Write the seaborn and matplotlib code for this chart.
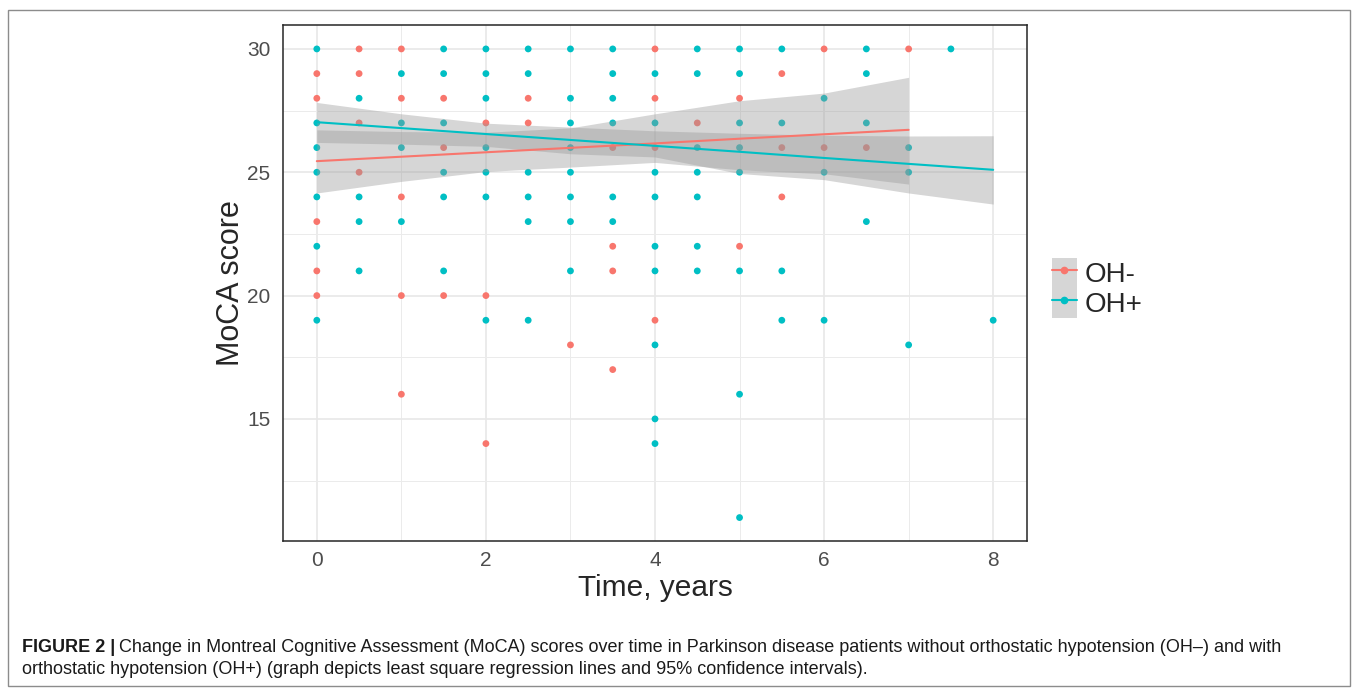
import matplotlib
matplotlib.use("Agg")
import pandas as pd
import matplotlib.pyplot as plt
import seaborn as sns
from matplotlib.lines import Line2D
from matplotlib.patches import Patch, Rectangle
from matplotlib.legend_handler import HandlerTuple
from matplotlib.ticker import MultipleLocator

sns.set_style("white")
plt.rcParams["font.family"] = ["Liberation Sans", "DejaVu Sans"]

# OH- observations (time in years, MoCA score)
ohm_time = [0, 0, 0, 0, 0, 0.5, 0.5, 0.5, 0.5, 1, 1, 1, 1, 1, 1.5, 1.5, 1.5,
            2, 2, 2, 2.5, 2.5, 3, 3.5, 3.5, 3.5, 3.5, 4, 4, 4, 4, 4.5, 5, 5,
            5.5, 5.5, 5.5, 6, 6, 6.5, 7]
ohm_score = [29, 28, 23, 21, 20, 30, 29, 27, 25, 30, 28, 24, 20, 16, 28, 26, 20,
             27, 20, 14, 28, 27, 18, 26, 22, 21, 17, 30, 28, 26, 19, 27, 28, 22,
             29, 26, 24, 30, 26, 26, 30]

# OH+ observations
ohp_time = [0, 0, 0, 0, 0, 0, 0,
            0.5, 0.5, 0.5, 0.5,
            1, 1, 1, 1,
            1.5, 1.5, 1.5, 1.5, 1.5, 1.5,
            2, 2, 2, 2, 2, 2, 2,
            2.5, 2.5, 2.5, 2.5, 2.5, 2.5,
            3, 3, 3, 3, 3, 3, 3, 3,
            3.5, 3.5, 3.5, 3.5, 3.5, 3.5,
            4, 4, 4, 4, 4, 4, 4, 4, 4,
            4.5, 4.5, 4.5, 4.5, 4.5, 4.5, 4.5,
            5, 5, 5, 5, 5, 5, 5, 5,
            5.5, 5.5, 5.5, 5.5,
            6, 6, 6,
            6.5, 6.5, 6.5, 6.5,
            7, 7, 7,
            7.5, 8]
ohp_score = [30, 27, 26, 25, 24, 22, 19,
             28, 24, 23, 21,
             29, 27, 26, 23,
             30, 29, 27, 25, 24, 21,
             30, 29, 28, 26, 25, 24, 19,
             30, 29, 25, 24, 23, 19,
             30, 28, 27, 26, 25, 24, 23, 21,
             30, 29, 28, 27, 24, 23,
             29, 27, 25, 24, 22, 21, 18, 15, 14,
             30, 29, 26, 25, 24, 22, 21,
             30, 29, 27, 26, 25, 21, 16, 11,
             30, 27, 21, 19,
             28, 25, 19,
             30, 29, 27, 23,
             26, 25, 18,
             30, 19]

# least-squares fits and 95% CI
ohm_fit_x = [0, 1, 2, 3, 4, 5, 6, 7]
ohm_fit = [25.45, 25.63, 25.81, 25.99, 26.17, 26.36, 26.54, 26.72]
ohm_lo = [24.16, 24.63, 25.03, 25.21, 25.40, 25.10, 24.94, 24.52]
ohm_hi = [26.72, 26.65, 26.62, 26.80, 27.37, 27.90, 28.21, 28.85]

ohp_fit_x = [0, 1, 2, 3, 4, 5, 6, 7, 8]
ohp_fit = [27.03, 26.79, 26.55, 26.31, 26.07, 25.83, 25.58, 25.34, 25.10]
ohp_lo = [26.21, 26.14, 26.05, 25.75, 25.62, 24.95, 24.70, 24.16, 23.71]
ohp_hi = [27.83, 27.37, 26.99, 26.83, 26.68, 26.58, 26.50, 26.47, 26.48]

groups = ["OH-", "OH+"]
colors = {"OH-": "#F8766D", "OH+": "#00BFC4"}

pts = pd.DataFrame({
    "time": ohm_time + ohp_time,
    "score": ohm_score + ohp_score,
    "group": ["OH-"] * len(ohm_time) + ["OH+"] * len(ohp_time),
})
fits = pd.DataFrame({
    "time": ohm_fit_x + ohp_fit_x,
    "fit": ohm_fit + ohp_fit,
    "lo": ohm_lo + ohp_lo,
    "hi": ohm_hi + ohp_hi,
    "group": ["OH-"] * len(ohm_fit_x) + ["OH+"] * len(ohp_fit_x),
})

fig = plt.figure(figsize=(13.57, 6.9), dpi=100)
ax = fig.add_axes([283 / 1357, 1 - 541 / 690, 744 / 1357, 515.5 / 690])

sns.scatterplot(data=pts, x="time", y="score", hue="group", palette=colors,
                s=24, linewidth=0, legend=False, ax=ax, zorder=3)

for g in groups:
    d = fits[fits["group"] == g]
    ax.fill_between(d["time"], d["lo"], d["hi"], color="#999999", alpha=0.4,
                    linewidth=0, zorder=4)
sns.lineplot(data=fits, x="time", y="fit", hue="group", palette=colors,
             linewidth=1.5, legend=False, ax=ax, zorder=5)

ax.set_xlim(-0.4, 8.4)
ax.set_ylim(10.05, 30.95)
ax.set_xticks([0, 2, 4, 6, 8])
ax.set_yticks([15, 20, 25, 30])
ax.xaxis.set_minor_locator(MultipleLocator(1))
ax.yaxis.set_minor_locator(MultipleLocator(2.5))
ax.grid(which="major", color="#E8E8E8", linewidth=1.2, zorder=0)
ax.grid(which="minor", color="#EBEBEB", linewidth=0.7, zorder=0)
ax.set_axisbelow(True)
ax.tick_params(which="major", length=4, width=0.9, color="#333333",
               labelsize=15, labelcolor="#4D4D4D", pad=3)
ax.tick_params(axis="y", which="major", pad=5)
ax.tick_params(which="minor", length=0)
for sp in ax.spines.values():
    sp.set_color("#262626")
    sp.set_linewidth(1.1)

ax.set_xlabel("Time, years", fontsize=21.5, labelpad=3)
ax.set_ylabel("MoCA score", fontsize=22, labelpad=1)

handles = [(Patch(facecolor="#D6D6D6", edgecolor="none"),
            Line2D([], [], color=colors[g], linewidth=1.5, marker="o", markersize=4.5))
           for g in groups]
fig.legend(handles, groups, handler_map={tuple: HandlerTuple(ndivide=1)},
           loc="center left", bbox_to_anchor=(1046 / 1357, 1 - 288 / 690),
           frameon=False, fontsize=20, handlelength=0.9, handleheight=1.28,
           labelspacing=0.0, handletextpad=0.3, borderpad=0.2, borderaxespad=0)

# outer frame
fig.patches.append(Rectangle((8 / 1357, 4 / 690), 1342 / 1357, 676 / 690,
                             transform=fig.transFigure, fill=False,
                             edgecolor="#8C8C8C", linewidth=1))

# caption
cap_x = 22 / 1357
t1 = fig.text(cap_x, 1 - 647 / 690, "FIGURE 2 |", fontsize=13, fontweight="bold",
              va="center", color="#1A1A1A")
fig.canvas.draw()
bb = t1.get_window_extent(renderer=fig.canvas.get_renderer())
fig.text(bb.x1 / 1357 + 0.003, 1 - 647 / 690,
         "Change in Montreal Cognitive Assessment (MoCA) scores over time in Parkinson "
         "disease patients without orthostatic hypotension (OH\u2013) and with",
         fontsize=13, va="center", color="#1A1A1A")
fig.text(cap_x, 1 - 670 / 690,
         "orthostatic hypotension (OH+) (graph depicts least square regression lines "
         "and 95% confidence intervals).",
         fontsize=13, va="center", color="#1A1A1A")

fig.savefig("out.png", dpi=100)
